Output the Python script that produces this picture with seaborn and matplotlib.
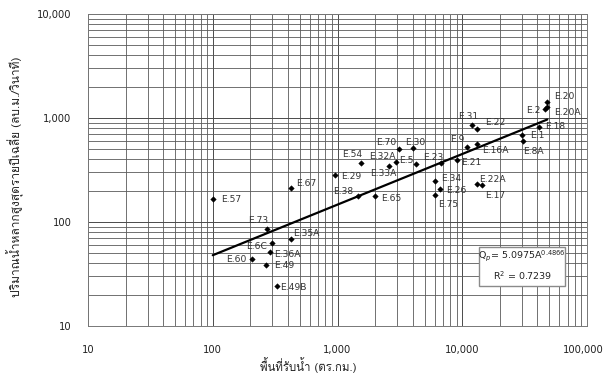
import numpy as np
import pandas as pd
import matplotlib
matplotlib.use("Agg")
import matplotlib.pyplot as plt
import matplotlib.ticker as mticker
import matplotlib.transforms as mtransforms
from matplotlib import font_manager
from matplotlib.ft2font import FT2Font
from matplotlib.patches import Rectangle
import seaborn as sns

# station data: catchment area (km2) and mean annual max flood (m3/s)
stations = ["E.57", "E.73", "E.6C", "E.36A", "E.60", "E.49", "E.49B", "E.35A", "E.67",
            "E.29", "E.38", "E.65", "E.54", "E.32A", "E.33A", "E.70", "E.30", "E.5",
            "E.23", "E.9", "E.21", "E.16A", "E.31", "E.22", "E.34", "E.26", "E.75",
            "E.22A", "E.17", "E.1", "E.8A", "E.18", "E.20", "E.20A", "E.2"]
area = [100, 270, 300, 290, 205, 265, 330, 420, 425,
        950, 1470, 2000, 1530, 2950, 2600, 3100, 4000, 4250,
        6800, 11000, 9000, 13200, 12000, 13200, 6000, 6600, 6100,
        13200, 14500, 30000, 30500, 41000, 48000, 48000, 46000]
flow = [165, 86, 63, 51, 44, 39, 24, 68, 214,
        283, 177, 177, 370, 375, 345, 500, 510, 365,
        370, 530, 395, 560, 860, 780, 248, 208, 183,
        230, 225, 690, 600, 820, 1430, 1270, 1230]

# fitted power curve shown on the chart
coef_a = 5.0975
coef_b = 0.4866
r_squared = 0.7239

x_ticks = [10, 100, 1000, 10000, 100000]
y_ticks = [10, 100, 1000, 10000]

x_title = "พื้นที่รับน้ำ (ตร.กม.)"
y_title = "ปริมาณน้ำหลากสูงสุดรายปีเฉลี่ย (ลบ.ม./วินาที)"

# label placement around each point (pixels right, pixels down, alignment)
label_offsets = {
    "E.57": (8, 0, "left"), "E.73": (-8, -8, "center"), "E.6C": (-5, 4, "right"),
    "E.36A": (4, 2, "left"), "E.60": (-5, 0, "right"), "E.49": (9, 1, "left"),
    "E.49B": (3, 1, "left"), "E.35A": (3, -6, "left"), "E.67": (5, -4, "left"),
    "E.29": (6, 1, "left"), "E.38": (-5, -5, "right"), "E.65": (6, 2, "left"),
    "E.54": (-8, -8, "center"), "E.32A": (0, -6, "right"), "E.33A": (-6, 7, "center"),
    "E.70": (-2, -7, "right"), "E.30": (3, -6, "center"), "E.5": (-2, -3, "right"),
    "E.23": (-8, -5, "center"), "E.9": (-3, -7, "right"), "E.21": (5, 3, "left"),
    "E.16A": (5, 6, "left"), "E.31": (-4, -8, "center"), "E.22": (8, -7, "left"),
    "E.34": (7, -2, "left"), "E.26": (6, 2, "left"), "E.75": (3, 10, "left"),
    "E.22A": (2, -5, "left"), "E.17": (3, 10, "left"), "E.1": (8, 1, "left"),
    "E.8A": (0, 10, "left"), "E.18": (6, 0, "left"), "E.20": (7, -5, "left"),
    "E.20A": (7, 5, "left"), "E.2": (-4, 2, "right"),
}


def find_thai_font():
    # look for any installed font that carries Thai glyphs
    for f in font_manager.fontManager.ttflist:
        try:
            cmap = FT2Font(f.fname).get_charmap()
        except Exception:
            continue
        if 0x0E01 in cmap and 0x0E49 in cmap and 0x0E35 in cmap:
            return f.name
    return None


sns.set_style("white")
plt.rcParams["font.family"] = ["DejaVu Sans"]
thai_font = find_thai_font()
thai_family = [thai_font, "DejaVu Sans"] if thai_font else ["DejaVu Sans"]

df = pd.DataFrame({"station": stations, "area": area, "flow": flow})

fig = plt.figure(figsize=(6.06, 3.81), dpi=100)
ax = fig.add_axes([88 / 606, 55 / 381, 499 / 606, 312 / 381])
ax.set_xscale("log")
ax.set_yscale("log")
ax.set_xlim(10, 100000)
ax.set_ylim(10, 10000)

# grid on every decade subdivision
ax.xaxis.set_minor_locator(mticker.LogLocator(base=10, subs=np.arange(2, 10)))
ax.yaxis.set_minor_locator(mticker.LogLocator(base=10, subs=np.arange(2, 10)))
ax.grid(which="major", color="#4a4a4a", linewidth=0.7)
ax.grid(which="minor", color="#5a5a5a", linewidth=0.6)
ax.set_axisbelow(True)

# trend line
fit_x = np.array([min(area), max(area)])
fit = pd.DataFrame({"area": fit_x, "flow": coef_a * fit_x ** coef_b})
sns.lineplot(data=fit, x="area", y="flow", color="black", linewidth=1.6, ax=ax)

sns.scatterplot(data=df, x="area", y="flow", marker="D", s=8, color="black",
                edgecolor="black", linewidth=0.3, ax=ax, zorder=4)

for name, xv, yv in zip(stations, area, flow):
    dx, dy, ha = label_offsets[name]
    ax.annotate(name, (xv, yv), xytext=(dx, -dy), textcoords="offset pixels",
                ha=ha, va="center", fontsize=6.6, color="#333333")

ax.set_xticks(x_ticks)
ax.set_yticks(y_ticks)
fmt = mticker.FuncFormatter(lambda v, _: f"{v:,.0f}")
ax.xaxis.set_major_formatter(fmt)
ax.yaxis.set_major_formatter(fmt)
ax.xaxis.set_minor_formatter(mticker.NullFormatter())
ax.yaxis.set_minor_formatter(mticker.NullFormatter())
ax.tick_params(which="major", length=3, width=0.7, color="#555555", labelsize=7.2,
               labelcolor="#222222")
ax.tick_params(axis="x", which="major", pad=11)
ax.tick_params(axis="y", which="major", pad=9)
ax.tick_params(which="minor", length=0)
ax.set_xlabel("")
ax.set_ylabel("")
for s in ax.spines.values():
    s.set_color("#777777")
    s.set_linewidth(0.7)

# keep the last x label inside the figure
last = ax.get_xticklabels()[-1]
last.set_transform(last.get_transform() +
                   mtransforms.ScaledTranslation(-4 / 100, 0, fig.dpi_scale_trans))

# equation box
ax.add_patch(Rectangle((0.7836, 0.128), 0.1723, 0.125, transform=ax.transAxes,
                       facecolor="white", edgecolor="#8a8a8a", linewidth=1.0, zorder=5))
ax.text(0.870, 0.225, r"Q$_p$= %.4fA$^{%.4f}$" % (coef_a, coef_b), transform=ax.transAxes,
        ha="center", va="center", fontsize=6.8, color="#222222", zorder=6)
ax.text(0.870, 0.160, "R$^2$ = %.4f" % r_squared, transform=ax.transAxes,
        ha="center", va="center", fontsize=6.8, color="#222222", zorder=6)

fig.text(308 / 606, 1 - 365 / 381, x_title, ha="center", va="center",
         fontsize=8.2, family=thai_family, color="#222222")
fig.text(15 / 606, 1 - 177 / 381, y_title, ha="center", va="center", rotation=90,
         fontsize=8.6, family=thai_family, color="#222222")

fig.savefig("out.png", dpi=100)
